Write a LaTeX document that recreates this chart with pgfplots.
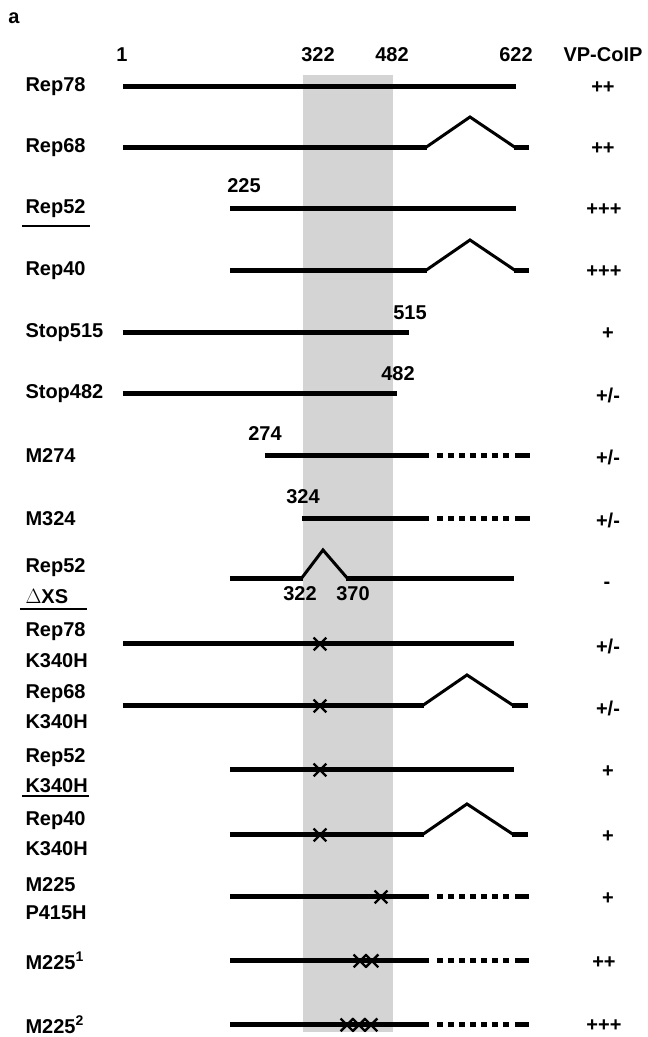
\documentclass[border=0pt]{standalone}
\usepackage{pgfplots}
\pgfplotsset{compat=1.18}
\usepackage{fontspec}
\setmainfont{Liberation Sans}
\begin{document}
\begin{tikzpicture}[font=\fontsize{20bp}{22bp}\selectfont\bfseries]
\begin{axis}[x=1bp, y=1bp, xmin=0, xmax=648, ymin=0, ymax=1037, y dir=reverse,
  hide axis, clip=false, scale only axis]
\path (rel axis cs:0,0) rectangle (rel axis cs:1,1);
% shaded region
\addplot[fill=black!17, draw=none] coordinates {(303,75)(393,75)(393,1032)(303,1032)};
% styles
\pgfplotsset{main/.style={black, line width=5bp, line cap=butt},
  peak/.style={black, line width=3bp, line join=miter},
  dots/.style={black, line width=5bp, dash pattern=on 6bp off 5bp}}
% Rep78
\addplot[main] coordinates {(123,87)(516,87)};
% Rep68
\addplot[main] coordinates {(123,148)(427,148)};
\addplot[peak] coordinates {(425,148)(470,117)(516,148)};
\addplot[main] coordinates {(514,148)(529,148)};
% Rep52
\addplot[main] coordinates {(230,209)(516,209)};
% Rep40
\addplot[main] coordinates {(230,271)(427,271)};
\addplot[peak] coordinates {(425,271)(470,240)(516,271)};
\addplot[main] coordinates {(514,271)(529,271)};
% Stop515
\addplot[main] coordinates {(123,333)(409,333)};
% Stop482
\addplot[main] coordinates {(123,394)(397,394)};
% M274
\addplot[main] coordinates {(265,456)(429,456)};
\addplot[dots] coordinates {(437,456)(509,456)};
\addplot[main] coordinates {(515,456)(530,456)};
% M324
\addplot[main] coordinates {(302,519)(429,519)};
\addplot[dots] coordinates {(437,519)(509,519)};
\addplot[main] coordinates {(515,519)(530,519)};
% Rep52 dXS
\addplot[main] coordinates {(230,579)(303,579)};
\addplot[peak] coordinates {(301,579)(323,550)(348,579)};
\addplot[main] coordinates {(346,579)(514,579)};
% Rep78 K340H
\addplot[main] coordinates {(123,644)(514,644)};
% Rep68 K340H
\addplot[main] coordinates {(123,706)(424,706)};
\addplot[peak] coordinates {(422,706)(467,675)(514,706)};
\addplot[main] coordinates {(512,706)(528,706)};
% Rep52 K340H
\addplot[main] coordinates {(230,770)(514,770)};
% Rep40 K340H
\addplot[main] coordinates {(230,835)(424,835)};
\addplot[peak] coordinates {(422,835)(467,804)(514,835)};
\addplot[main] coordinates {(512,835)(528,835)};
% M225 P415H, M225-1, M225-2
\addplot[main] coordinates {(230,897)(429,897)};
\addplot[dots] coordinates {(437,897)(509,897)};
\addplot[main] coordinates {(515,897)(529,897)};
\addplot[main] coordinates {(230,961)(429,961)};
\addplot[dots] coordinates {(437,961)(509,961)};
\addplot[main] coordinates {(515,961)(529,961)};
\addplot[main] coordinates {(230,1025)(429,1025)};
\addplot[dots] coordinates {(437,1025)(509,1025)};
\addplot[main] coordinates {(515,1025)(529,1025)};
% mutations
\addplot[only marks, mark=x, mark size=9bp, mark options={line width=2.4bp, black}]
  coordinates {(320,644)(320,706)(320,770)(320,835)(381,897)(360,961)(372,961)(347,1025)(359,1025)(371,1025)};
% header
\node at (axis cs:14,18) {a};
\node at (axis cs:122,55) {1};
\node at (axis cs:318,55) {322};
\node at (axis cs:392,55) {482};
\node at (axis cs:516,55) {622};
\node at (axis cs:603,55) {VP-CoIP};
% row labels
\node[anchor=west] at (axis cs:22,87) {Rep78};
\node[anchor=west] at (axis cs:22,148) {Rep68};
\node[anchor=west] at (axis cs:22,209) {Rep52};
\addplot[black, line width=1.5bp] coordinates {(22,226)(90,226)};
\node[anchor=west] at (axis cs:22,271) {Rep40};
\node[anchor=west] at (axis cs:22,333) {Stop515};
\node[anchor=west] at (axis cs:22,394) {Stop482};
\node[anchor=west] at (axis cs:22,456) {M274};
\node[anchor=west] at (axis cs:22,519) {M324};
\node[anchor=west] at (axis cs:22,568) {Rep52};
\node[anchor=west] at (axis cs:22,597) {$\Delta$XS};
\addplot[black, line width=1.5bp] coordinates {(20,609)(87,609)};
\node[anchor=west] at (axis cs:22,632) {Rep78};
\node[anchor=west] at (axis cs:22,661) {K340H};
\node[anchor=west] at (axis cs:22,694) {Rep68};
\node[anchor=west] at (axis cs:22,722) {K340H};
\node[anchor=west] at (axis cs:22,758) {Rep52};
\node[anchor=west] at (axis cs:22,786) {K340H};
\addplot[black, line width=1.5bp] coordinates {(22,796)(89,796)};
\node[anchor=west] at (axis cs:22,821) {Rep40};
\node[anchor=west] at (axis cs:22,849) {K340H};
\node[anchor=west] at (axis cs:22,885) {M225};
\node[anchor=west] at (axis cs:22,913) {P415H};
\node[anchor=west] at (axis cs:22,961) {M225\textsuperscript{1}};
\node[anchor=west] at (axis cs:22,1025) {M225\textsuperscript{2}};
% position labels
\node at (axis cs:244,186) {225};
\node at (axis cs:410,313) {515};
\node at (axis cs:398,374) {482};
\node at (axis cs:265,434) {274};
\node at (axis cs:303,497) {324};
\node at (axis cs:300,594) {322};
\node at (axis cs:353,594) {370};
% results
\node at (axis cs:603,88) {++};
\node at (axis cs:603,149) {++};
\node at (axis cs:604,210) {+++};
\node at (axis cs:604,272) {+++};
\node at (axis cs:608,334) {+};
\node at (axis cs:608,395) {+/-};
\node at (axis cs:608,457) {+/-};
\node at (axis cs:608,520) {+/-};
\node at (axis cs:607,585) {-};
\node at (axis cs:608,646) {+/-};
\node at (axis cs:608,708) {+/-};
\node at (axis cs:608,772) {+};
\node at (axis cs:608,837) {+};
\node at (axis cs:608,899) {+};
\node at (axis cs:604,963) {++};
\node at (axis cs:604,1026) {+++};
\end{axis}
\end{tikzpicture}
\end{document}
